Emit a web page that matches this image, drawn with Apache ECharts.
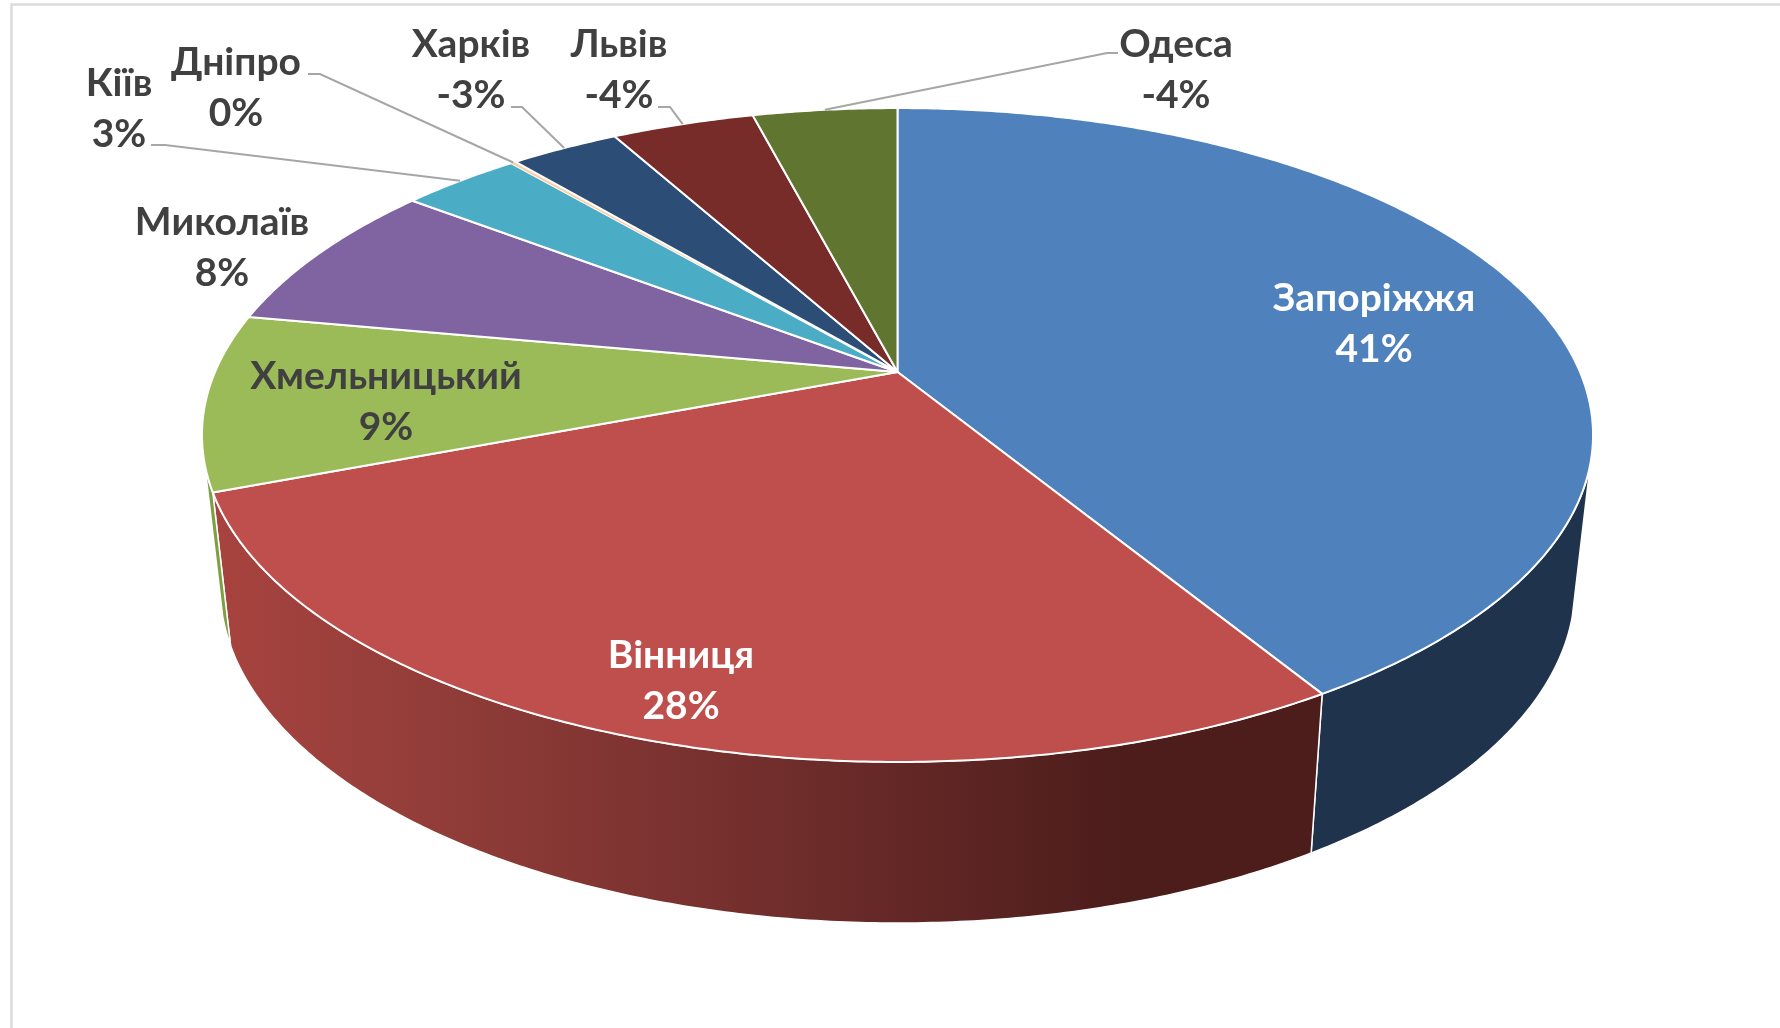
<!DOCTYPE html>
<html>
<head>
<meta charset="utf-8">
<title>Pie</title>
<script src="https://cdn.jsdelivr.net/npm/echarts@6/dist/echarts.min.js"></script>
<style>
  html, body { margin: 0; padding: 0; background: #fff; }
  #chart { width: 1780px; height: 1028px; }
</style>
</head>
<body>
<div id="chart"></div>
<script>
const categories = ['Запоріжжя', 'Вінниця', 'Хмельницький', 'Миколаїв', 'Кіїв', 'Дніпро', 'Харків', 'Львів', 'Одеса']
const sliceValues = [41.3, 27.9, 8.7, 7.5, 3.35, 0.15, 3.05, 4.0, 4.05]
const percentLabels = ['41%', '28%', '9%', '8%', '3%', '0%', '-3%', '-4%', '-4%']

const topColors = ['#4f81bd', '#bf4f4c', '#9bbb59', '#8064a2', '#4bacc6', '#fbcfa8', '#2c4d75', '#772c2a', '#5f7530']
const labelColors = ['#fff', '#fff', '#404040', '#404040', '#404040', '#404040', '#404040', '#404040', '#404040']

// label centres and the flat start of each leader line
const labelCentres = [[1374, 324], [681, 681], [386, 402], [222, 248], [119, 109], [236, 88], [471, 70], [619, 70], [1176, 70]]
const leaderStarts = [null, null, null, null, [[151, 145], [165, 145]], [[308, 74], [320, 74]], [[511, 107], [522, 107]], [[658, 107], [670, 107]], [[1118, 53], [1107, 53]]]

// perspective of the pie's top face and of its lower rim
const CX = 897.5, CY = 372, RX = 682.5, RY = 314.8, PERSP = 0.1927
const RIM_SX = 0.974, RIM_SY = 1.029, RIM_DY = 139
// the side wall shows only between these two angles
const WALL_FROM = 106, WALL_TO = 254

const total = sliceValues.reduce((a, b) => a + b, 0)

function project(deg) {
  const r = deg * Math.PI / 180
  const u = Math.sin(r), v = -Math.cos(r)
  const d = 1 - PERSP * v
  return [CX + RX * u / d, CY + RY * v / d]
}

function lower(p) {
  return [CX + RIM_SX * (p[0] - CX), RIM_SY * p[1] + RIM_DY]
}

function sliceAngles(index) {
  let before = 0
  for (let i = 0; i < index; i++) before += sliceValues[i]
  return [before / total * 360, (before + sliceValues[index]) / total * 360]
}

function arc(from, to) {
  const steps = Math.max(2, Math.ceil((to - from) / 0.5))
  const pts = []
  for (let i = 0; i <= steps; i++) pts.push(project(from + (to - from) * i / steps))
  return pts
}

function wallFill(index) {
  if (index === 1) {
    return new echarts.graphic.LinearGradient(0, 0, 1, 0, [
      { offset: 0, color: '#a8433f' },
      { offset: 0.17, color: '#953e3a' },
      { offset: 0.46, color: '#76302e' },
      { offset: 0.82, color: '#4c1d1b' },
      { offset: 1, color: '#4c1d1b' }
    ])
  }
  if (index === 0) return '#1f334c'
  return '#7f9f45'
}

function renderWall(params) {
  const a = sliceAngles(params.dataIndex)
  const from = Math.max(a[0], WALL_FROM), to = Math.min(a[1], WALL_TO)
  if (to <= from) return null
  const rim = arc(from, to)
  const bottom = rim.map(lower).reverse()
  return {
    type: 'polygon',
    shape: { points: rim.concat(bottom) },
    style: { fill: wallFill(params.dataIndex), stroke: '#fff', lineWidth: 1.5, lineJoin: 'round' }
  }
}

function renderTop(params) {
  const i = params.dataIndex
  const a = sliceAngles(i)
  const children = [{
    type: 'polygon',
    shape: { points: [[CX, CY]].concat(arc(a[0], a[1])) },
    style: { fill: topColors[i], stroke: i === 5 ? 'none' : '#fff', lineWidth: 2, lineJoin: 'round' }
  }]
  if (leaderStarts[i]) {
    children.push({
      type: 'polyline',
      shape: { points: leaderStarts[i].concat([project((a[0] + a[1]) / 2)]) },
      style: { fill: 'none', stroke: '#a6a6a6', lineWidth: 2 }
    })
  }
  children.push({
    type: 'text',
    x: labelCentres[i][0],
    y: labelCentres[i][1],
    style: {
      text: categories[i] + '\n' + percentLabels[i],
      fill: labelColors[i],
      font: 'bold 39px Lato, "Open Sans", sans-serif',
      lineHeight: 51,
      align: 'center',
      verticalAlign: 'middle'
    }
  })
  return { type: 'group', children }
}

const chart = echarts.init(document.getElementById('chart'))
chart.setOption({
  animation: false,
  backgroundColor: '#fff',
  graphic: [{
    type: 'polyline',
    silent: true,
    shape: { points: [[11.5, 1028], [11.5, 4.5], [1780, 4.5]] },
    style: { fill: 'none', stroke: '#dcdcdc', lineWidth: 2.5 }
  }],
  series: [
    { type: 'custom', coordinateSystem: 'none', z: 1, silent: true, data: sliceValues, renderItem: renderWall },
    { type: 'custom', coordinateSystem: 'none', z: 2, silent: true, data: sliceValues, renderItem: renderTop }
  ]
})
</script>
</body>
</html>
